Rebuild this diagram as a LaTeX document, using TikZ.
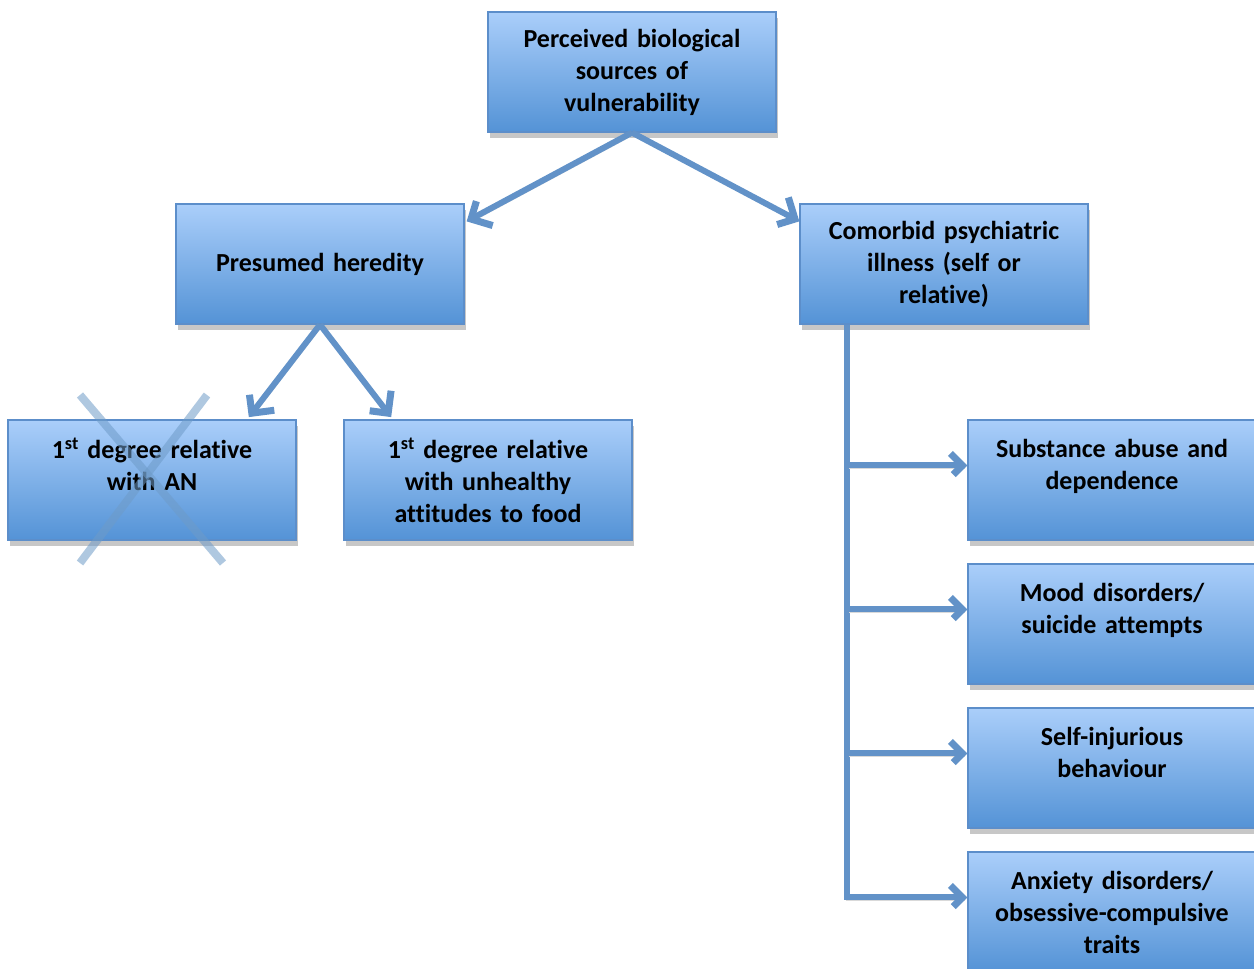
\documentclass[tikz,border=0pt]{standalone}
\usepackage{fontspec}
\setmainfont{Carlito}[Ligatures=NoCommon]
\usetikzlibrary{decorations.markings,shadows,calc}
\definecolor{boxtop}{RGB}{170,206,250}
\definecolor{boxbot}{RGB}{84,147,214}
\definecolor{boxline}{RGB}{92,142,202}
\definecolor{arrowc}{RGB}{98,146,200}
\definecolor{crossc}{RGB}{110,155,200}
\begin{document}
\begin{tikzpicture}[x=1pt,y=-1pt,
  box/.style={draw=boxline, line width=1.2pt, top color=boxtop, bottom color=boxbot,
    minimum width=288pt, minimum height=120pt, inner sep=0pt, align=center,
    text width=280pt, font=\fontsize{26}{32}\selectfont\bfseries,
    drop shadow={shadow xshift=2pt, shadow yshift=-6pt, fill=black!22, opacity=1}},
  soft/.style={preaction={draw=black!15, transform canvas={shift={(1.5pt,-2.5pt)}}}},
  link/.style={draw=arrowc, line width=6pt, soft},
  % open chevron head drawn a little heavier than the shaft
  chevron/.style={postaction={decorate, decoration={markings,
    mark=at position 1 with {\draw[draw=arrowc, line width=7pt, line join=miter, line cap=butt]
      (-5pt-#1,#1) -- (-5pt,0pt) -- (-5pt-#1,-#1);}}}},
  arr/.style={link, shorten >=4pt, chevron=16pt},
  branch/.style={link, shorten >=4pt, chevron=12pt},
  cross/.style={draw=crossc, line width=8pt, opacity=0.55}]
\useasboundingbox (0,0) rectangle (1254,969);
\clip (0,0) rectangle (1254,969);
\fill[white] (0,0) rectangle (1254,969);

% boxes
\node[box] (top) at (632,72) {Perceived biological\\sources of\\vulnerability};
\node[box] (her) at (320,264) {Presumed heredity};
\node[box] (com) at (944,264) {Comorbid psychiatric\\illness (self or\\relative)};
\node[box] (an)  at (152,480) {1\textsuperscript{st} degree relative\\with AN\\\mbox{}};
\node[box] (unh) at (488,480) {1\textsuperscript{st} degree relative\\with unhealthy\\attitudes to food};
\node[box] (sub) at (1112,480) {Substance abuse and\\dependence\\\mbox{}};
\node[box] (mood) at (1112,624) {Mood disorders/\\suicide attempts\\\mbox{}};
\node[box] (self) at (1112,768) {Self-injurious\\behaviour\\\mbox{}};
\node[box] (anx) at (1112,912) {Anxiety disorders/\\obsessive-compulsive\\traits};

% connectors from the top box and from heredity
\draw[arr] (top.south) -- ($(her.north east)+(2,18)$);
\draw[arr] (top.south) -- ($(com.north west)+(0,18)$);
\draw[arr] (her.south) -- ($(an.north east)+(-48,-2)$);
\draw[arr] (her.south) -- ($(unh.north west)+(48,-2)$);

% trunk with branches to the comorbidity list
\coordinate (trunk) at ($(com.south west)+(48,0)$);
\coordinate (b1) at ($(sub.north west)+(0,46)$);
\coordinate (b2) at ($(mood.north west)+(0,46)$);
\coordinate (b3) at ($(self.north west)+(0,46)$);
\coordinate (b4) at ($(anx.north west)+(0,46)$);
\draw[link] (trunk) -- (trunk |- b4);
\draw[branch] (trunk |- b1) -- (b1);
\draw[branch] (trunk |- b2) -- (b2);
\draw[branch] (trunk |- b3) -- (b3);
\draw[branch] ([xshift=-3pt]trunk |- b4) -- (b4);

% crossed-out box
\draw[cross] (80,395) -- (223,563);
\draw[cross] (207,395) -- (80,563);
\end{tikzpicture}
\end{document}
